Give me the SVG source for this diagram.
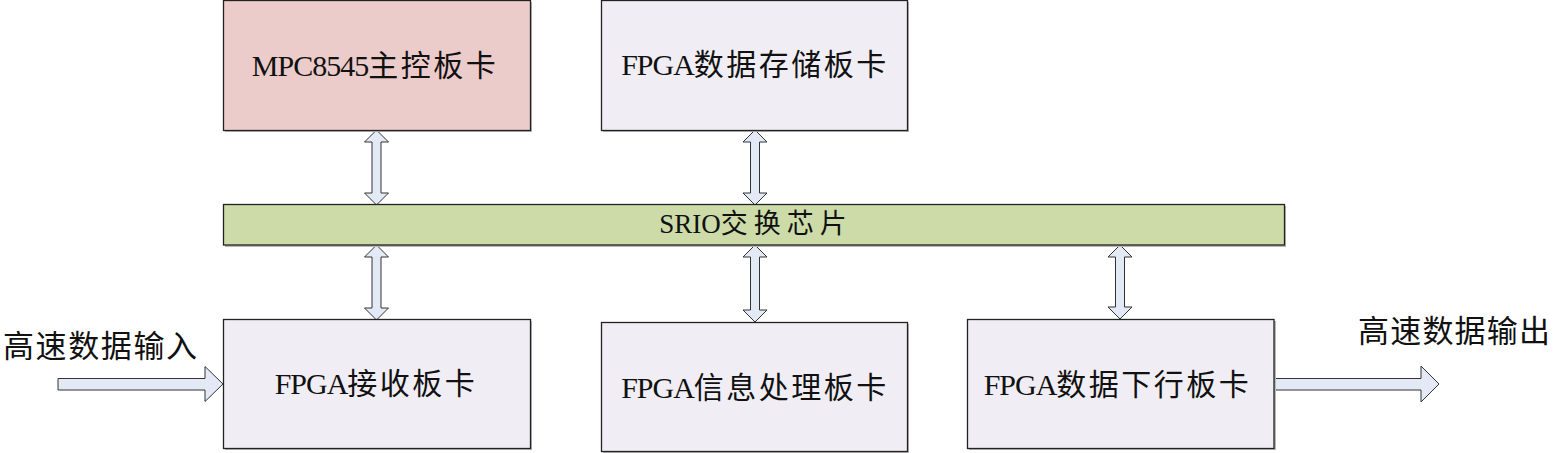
<svg xmlns="http://www.w3.org/2000/svg" width="1556" height="453" viewBox="0 0 1556 453">
<style>
.box{stroke:#222;stroke-width:1.3}
.card{fill:#f0eef4}
.mpc{fill:#ecccca}
.bus{fill:#cddba9}
.shadow{fill:#b8b8b8}
.arr{fill:#e3eaf5;stroke:#333;stroke-width:1}
.t{font-family:"Liberation Serif","Noto Sans CJK SC",serif;font-size:30px;fill:#111;text-anchor:middle;dominant-baseline:central}
.cj{letter-spacing:2.5px}
.la{letter-spacing:-1px}
.lbl{font-family:"Noto Sans CJK SC",sans-serif;font-size:31px;fill:#111;text-anchor:middle;dominant-baseline:central}
</style>
<g id="connectors">
<path class="arr" d="M376.5,130 L388.5,142 L381,142 L381,193 L388.5,193 L376.5,205 L364.5,193 L372,193 L372,142 L364.5,142 Z"/>
<path class="arr" d="M755,130 L767,142 L759.5,142 L759.5,193 L767,193 L755,205 L743,193 L750.5,193 L750.5,142 L743,142 Z"/>
<path class="arr" d="M376.5,245 L388.5,257 L381,257 L381,308 L388.5,308 L376.5,320 L364.5,308 L372,308 L372,257 L364.5,257 Z"/>
<path class="arr" d="M755,245 L767,257 L759.5,257 L759.5,310 L767,310 L755,322 L743,310 L750.5,310 L750.5,257 L743,257 Z"/>
<path class="arr" d="M1120,245 L1132,257 L1124.5,257 L1124.5,307 L1132,307 L1120,319 L1108,307 L1115.5,307 L1115.5,257 L1108,257 Z"/>
<path class="arr" d="M58,378.5 L205,378.5 L205,366.5 L223,384 L205,401.5 L205,390 L58,390 Z"/>
<path class="arr" d="M1274,378.5 L1421,378.5 L1421,366 L1439,384 L1421,402 L1421,390 L1274,390 Z"/>
</g>
<g id="mpc">
<rect class="shadow" x="225" y="2" width="307" height="130"/>
<rect class="box mpc" x="223.5" y="0.5" width="307" height="130"/>
<text class="t" x="375" y="64.5"><tspan class="la">MPC8545</tspan><tspan class="cj">主控板卡</tspan></text>
</g>
<g id="storage">
<rect class="shadow" x="603" y="2" width="306" height="130"/>
<rect class="box card" x="601.5" y="0.5" width="306" height="130"/>
<text class="t" x="755" y="64"><tspan class="la">FPGA</tspan><tspan class="cj">数据存储板卡</tspan></text>
</g>
<g id="srio">
<rect class="shadow" x="225" y="206" width="1061" height="41"/>
<rect class="box bus" x="223.5" y="204.5" width="1061" height="40.5"/>
<text class="t" x="756" y="224" style="font-size:27px">SRIO<tspan style="letter-spacing:6px">交换芯片</tspan></text>
</g>
<g id="receive">
<rect class="shadow" x="225" y="321" width="307" height="129"/>
<rect class="box card" x="223.5" y="319.5" width="307" height="129"/>
<text class="t" x="376" y="382.5"><tspan class="la">FPGA</tspan><tspan class="cj">接收板卡</tspan></text>
</g>
<g id="process">
<rect class="shadow" x="603" y="324" width="306" height="129"/>
<rect class="box card" x="601.5" y="322.5" width="306" height="129"/>
<text class="t" x="755" y="386.5"><tspan class="la">FPGA</tspan><tspan class="cj">信息处理板卡</tspan></text>
</g>
<g id="downlink">
<rect class="shadow" x="969" y="321" width="307" height="129"/>
<rect class="box card" x="967.5" y="319.5" width="306.5" height="129"/>
<text class="t" x="1117.5" y="383.5"><tspan class="la">FPGA</tspan><tspan class="cj">数据下行板卡</tspan></text>
</g>
<g id="input-label">
<text class="lbl" x="100" y="343" textLength="194" lengthAdjust="spacing">高速数据输入</text>
</g>
<g id="output-label">
<text class="lbl" x="1454" y="328" textLength="192" lengthAdjust="spacing">高速数据输出</text>
</g>
</svg>
